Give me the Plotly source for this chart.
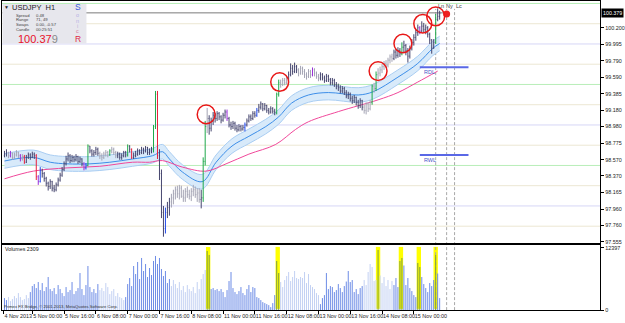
import plotly.graph_objects as go

# ---------------- data ----------------
x_tick_pos = [-0.5, 14, 30, 46, 62, 78, 94, 110, 126, 142, 158, 174, 190, 206]
x_tick_text = ["4 Nov 2013", "5 Nov 00:00", "5 Nov 16:00", "6 Nov 08:00", "7 Nov 00:00",
               "7 Nov 16:00", "8 Nov 08:00", "11 Nov 00:00", "11 Nov 16:00", "12 Nov 08:00",
               "13 Nov 00:00", "13 Nov 16:00", "14 Nov 08:00", "15 Nov 00:00"]
y_ticks = [100.200, 99.995, 99.790, 99.590, 99.385, 99.180, 98.980, 98.775,
           98.570, 98.370, 98.165, 97.960, 97.760, 97.555]
vol_ticks = [0, 12397]

open_first = 98.62
close = [
 98.64, 98.66, 98.62, 98.65, 98.60, 98.63, 98.66, 98.62, 98.58, 98.61,
 98.54, 98.60, 98.63, 98.60, 98.64, 98.62, 98.36, 98.30, 98.44, 98.40,
 98.34, 98.28, 98.24, 98.30, 98.22, 98.20, 98.26, 98.32, 98.38, 98.45,
 98.52, 98.58, 98.62, 98.56, 98.60, 98.57, 98.61, 98.55, 98.58, 98.52,
 98.47, 98.50, 98.74, 98.68, 98.64, 98.66, 98.70, 98.65, 98.62, 98.60,
 98.64, 98.66, 98.63, 98.68, 98.70, 98.66, 98.62, 98.64, 98.60, 98.62,
 98.66, 98.63, 98.74, 98.70, 98.60, 98.62, 98.64, 98.68, 98.66, 98.70,
 98.68, 98.72, 98.66, 98.68, 98.70, 98.98, 99.38, 98.62, 98.40, 97.92,
 97.72, 97.92, 97.98, 98.05, 98.10, 98.15, 98.20, 98.15, 98.22, 98.12,
 98.10, 98.18, 98.14, 98.12, 98.18, 98.20, 98.14, 98.16, 98.08, 98.10,
 98.55, 98.98, 99.08, 98.96, 99.05, 99.12, 99.08, 99.14, 99.10, 99.06,
 99.12, 99.16, 99.08, 99.00, 98.98, 99.02, 98.96, 98.94, 98.98, 98.95,
 98.97, 99.00, 99.05, 99.10, 99.08, 99.14, 99.12, 99.18, 99.22, 99.26,
 99.20, 99.24, 99.18, 99.16, 99.20, 99.17, 99.15, 99.38, 99.52, 99.50,
 99.55, 99.52, 99.57, 99.62, 99.70, 99.66, 99.72, 99.68, 99.64, 99.70,
 99.66, 99.62, 99.60, 99.66, 99.62, 99.68, 99.64, 99.60, 99.58, 99.62,
 99.58, 99.55, 99.60, 99.56, 99.52, 99.55, 99.50, 99.48, 99.46, 99.42,
 99.45, 99.40, 99.36, 99.38, 99.33, 99.30, 99.34, 99.28, 99.24, 99.30,
 99.22, 99.18, 99.26, 99.20, 99.28, 99.48, 99.45, 99.62, 99.64, 99.68,
 99.72, 99.76, 99.74, 99.80, 99.84, 99.82, 99.90, 99.86, 99.92, 99.88,
 99.96, 99.98, 99.92, 99.85, 99.95, 100.02, 100.08, 100.14, 100.20, 100.16,
 100.22, 100.18, 100.20, 100.12, 100.05, 99.95, 100.02, 100.30, 100.34, 100.38]
high = [
 98.68, 98.70, 98.67, 98.68, 98.66, 98.66, 98.69, 98.67, 98.64, 98.64,
 98.63, 98.63, 98.66, 98.65, 98.67, 98.66, 98.64, 98.38, 98.48, 98.46,
 98.42, 98.36, 98.30, 98.33, 98.31, 98.26, 98.29, 98.35, 98.41, 98.48,
 98.55, 98.62, 98.66, 98.64, 98.63, 98.62, 98.64, 98.62, 98.61, 98.59,
 98.54, 98.53, 98.76, 98.74, 98.70, 98.69, 98.73, 98.72, 98.67, 98.65,
 98.67, 98.69, 98.68, 98.70, 98.73, 98.72, 98.68, 98.67, 98.66, 98.65,
 98.68, 98.68, 98.76, 98.75, 98.71, 98.66, 98.68, 98.71, 98.70, 98.73,
 98.72, 98.74, 98.73, 98.71, 98.73, 99.00, 99.42, 99.42, 98.70, 98.45,
 98.00, 97.98, 98.05, 98.10, 98.15, 98.20, 98.24, 98.25, 98.26, 98.25,
 98.20, 98.22, 98.24, 98.20, 98.22, 98.26, 98.24, 98.22, 98.22, 98.20,
 98.60, 99.05, 99.21, 99.12, 99.09, 99.16, 99.15, 99.17, 99.16, 99.12,
 99.15, 99.19, 99.19, 99.10, 99.04, 99.05, 99.04, 99.00, 99.01, 99.00,
 99.00, 99.03, 99.08, 99.13, 99.13, 99.17, 99.17, 99.21, 99.26, 99.29,
 99.27, 99.27, 99.25, 99.21, 99.23, 99.22, 99.20, 99.40, 99.56, 99.56,
 99.58, 99.58, 99.60, 99.66, 99.76, 99.74, 99.77, 99.74, 99.70, 99.73,
 99.72, 99.69, 99.65, 99.69, 99.68, 99.71, 99.70, 99.66, 99.63, 99.65,
 99.64, 99.61, 99.63, 99.62, 99.58, 99.58, 99.57, 99.53, 99.51, 99.49,
 99.48, 99.47, 99.43, 99.41, 99.40, 99.36, 99.37, 99.35, 99.31, 99.33,
 99.31, 99.25, 99.28, 99.28, 99.31, 99.50, 99.52, 99.66, 99.70, 99.72,
 99.75, 99.79, 99.80, 99.83, 99.87, 99.88, 99.93, 99.94, 99.96, 99.95,
 100.02, 100.04, 100.00, 99.95, 99.98, 100.06, 100.12, 100.18, 100.24, 100.22,
 100.28, 100.26, 100.24, 100.22, 100.14, 100.06, 100.06, 100.37, 100.44, 100.41]
low = [
 98.60, 98.61, 98.59, 98.60, 98.57, 98.58, 98.61, 98.59, 98.55, 98.56,
 98.52, 98.53, 98.58, 98.57, 98.59, 98.58, 98.32, 98.26, 98.29, 98.35,
 98.30, 98.24, 98.19, 98.21, 98.18, 98.17, 98.18, 98.24, 98.30, 98.36,
 98.43, 98.50, 98.55, 98.53, 98.54, 98.54, 98.55, 98.52, 98.53, 98.49,
 98.44, 98.45, 98.49, 98.65, 98.61, 98.61, 98.63, 98.62, 98.58, 98.56,
 98.58, 98.61, 98.60, 98.62, 98.65, 98.63, 98.59, 98.59, 98.57, 98.57,
 98.60, 98.60, 98.61, 98.66, 98.58, 98.58, 98.60, 98.62, 98.63, 98.64,
 98.64, 98.66, 98.63, 98.63, 98.65, 98.66, 98.95, 98.58, 98.32, 97.85,
 97.62, 97.66, 97.85, 97.88, 97.98, 98.02, 98.08, 98.10, 98.08, 98.10,
 98.05, 98.05, 98.10, 98.08, 98.06, 98.12, 98.10, 98.05, 98.04, 97.97,
 98.05, 98.50, 98.90, 98.88, 98.92, 99.00, 99.03, 99.05, 99.06, 99.02,
 99.04, 99.08, 99.05, 98.97, 98.94, 98.95, 98.93, 98.91, 98.92, 98.92,
 98.93, 98.92, 98.98, 99.03, 99.05, 99.06, 99.09, 99.10, 99.15, 99.19,
 99.17, 99.18, 99.15, 99.13, 99.14, 99.14, 99.12, 99.13, 99.35, 99.46,
 99.48, 99.49, 99.50, 99.54, 99.60, 99.62, 99.64, 99.64, 99.60, 99.62,
 99.62, 99.58, 99.56, 99.58, 99.58, 99.60, 99.60, 99.57, 99.54, 99.55,
 99.55, 99.52, 99.53, 99.53, 99.49, 99.49, 99.47, 99.44, 99.42, 99.39,
 99.39, 99.37, 99.33, 99.32, 99.29, 99.26, 99.27, 99.24, 99.20, 99.21,
 99.18, 99.14, 99.13, 99.16, 99.18, 99.25, 99.40, 99.42, 99.56, 99.60,
 99.64, 99.68, 99.70, 99.71, 99.76, 99.78, 99.80, 99.82, 99.83, 99.84,
 99.86, 99.90, 99.86, 99.77, 99.82, 99.92, 99.98, 100.04, 100.10, 100.12,
 100.14, 100.14, 100.12, 100.08, 100.00, 99.88, 99.94, 100.00, 100.28, 100.30]

gray_ranges = [(2, 9), (48, 56), (84, 98), (102, 102), (139, 142), (148, 158), (181, 195)]
green_bars = [42, 53, 62, 75, 76, 100, 101, 137, 138, 185, 187, 200, 217]
red_bars = [10, 16, 64, 77]
purple_bars = [3, 8, 17, 40, 112, 155, 209]
blue_bars = [18, 41, 81, 121, 127]

volume = [
 2400, 2000, 2600, 1800, 2200, 2800, 2400, 3400, 2600, 2000, 2200, 3000, 2400,
 3600, 4800, 5200, 4400, 5600, 4000, 5400, 3800, 4600, 6600, 4200,
 3800, 4400, 3200, 5000, 4200, 3400, 2800, 4600, 3600, 4000, 5600, 3200, 3800, 4400, 7400,
 4200, 3000, 5000, 8800, 4600, 3600, 4200,
 3400, 5200, 4000, 4400, 3800, 5400, 4600, 3200, 3800, 4200, 2800, 3400, 2600, 2400, 2000, 2600,
 5200, 6400, 4800, 8800, 7200, 9600, 6200, 10400, 7800, 9200, 6600, 8400,
 7000, 9800, 10800, 9200, 10400, 8200,
 6800, 7800, 5400, 6200, 4800, 6000, 5200, 4400, 5600, 4000, 4800, 3600, 5000, 4200, 3800, 4600, 3400, 5600, 4200, 6200,
 7200, 8000, 11800, 11000,
 4200, 4400, 4000, 4200, 3800, 4200, 3600, 2600, 4000, 5800, 7600, 4400,
 3600, 3200, 3800, 4600, 3400, 3000, 4200, 5000, 3600, 4600, 4400, 2600, 2400, 2000, 1600,
 1400, 1200, 1000, 600, 1400, 3000,
 9800, 7400,
 5600, 4600, 6000, 6800, 7600, 5800, 6600, 7800, 6400, 6200, 6600, 6400, 7600, 5400, 7200, 5000,
 4600, 4200, 3400, 3000, 1200, 2400, 3000, 7400, 4200,
 4800, 4600, 3600, 4000, 5200, 4400, 3600, 4800, 5700,
 7800, 5600, 6000, 3600, 4200, 3200, 4400, 4800,
 6000, 5000, 7600, 9200, 8600, 5800, 6000,
 12000, 6900,
 5400, 6600, 4800, 6000, 4200, 5800, 5000, 6400, 4600,
 9800, 10400, 8900,
 5000, 6400, 4400, 3800, 3000, 2600,
 9400, 8600, 6600,
 5200, 4400, 3600, 5400, 4800,
 6000, 11000, 7300, 2400]
light_vol_ranges = [(2, 12), (48, 60), (84, 101), (139, 158), (181, 195)]
olive_vol_bars = [102, 103, 137, 138, 188, 199, 200, 208, 209, 217]
highlight_k = [102.5, 137.5, 188, 199.5, 208.5, 217]

ma_fast_k = [0, 14.5, 23, 31.5, 43, 53, 64.5, 74.5, 79.5, 83, 89.5, 99.5, 106.5, 114.5,
             123, 131.5, 138, 144.5, 153, 163, 178, 185.5, 198, 208, 215.5, 219]
ma_fast_v = [98.555, 98.60, 98.54, 98.52, 98.52, 98.54, 98.58, 98.62, 98.67, 98.58, 98.42,
             98.30, 98.54, 98.74, 98.86, 98.98, 99.10, 99.27, 99.37, 99.40, 99.37, 99.41,
             99.59, 99.76, 99.945, 100.006]
band_up_v = [98.645, 98.69, 98.63, 98.61, 98.61, 98.63, 98.67, 98.71, 98.76, 98.67, 98.51,
             98.39, 98.63, 98.83, 98.95, 99.07, 99.19, 99.36, 99.46, 99.49, 99.46, 99.50,
             99.68, 99.85, 100.035, 100.096]
band_lo_v = [98.465, 98.51, 98.45, 98.43, 98.43, 98.45, 98.49, 98.53, 98.58, 98.49, 98.33,
             98.21, 98.45, 98.65, 98.77, 98.89, 99.01, 99.18, 99.28, 99.31, 99.28, 99.32,
             99.50, 99.67, 99.855, 99.916]
ma_slow_k = [0, 14.5, 31.5, 48, 64.5, 73, 79.5, 89.5, 101.5, 111.5, 123, 136.5, 146.5,
             153, 168, 188, 198, 208, 218]
ma_slow_v = [98.335, 98.43, 98.47, 98.49, 98.54, 98.54, 98.56, 98.48, 98.43, 98.52, 98.64,
             98.76, 98.945, 99.04, 99.165, 99.31, 99.40, 99.53, 99.665]

levels_full = [98.0, 99.0, 100.0]
levels_half = [98.5, 99.5, 100.5]
levels_quarter = [97.75, 98.25, 98.75, 99.25, 99.75, 100.25]

circle_k = [101.5, 138.5, 188, 200.5, 210.5, 217]
circle_p = [99.13, 99.53, 99.665, 100.006, 100.25, 100.34]

session_k = [217, 222.5, 226.5]
session_lbl = ["Ln", "Ny", "Lc"]
session_lbl_k = [219.5, 224, 228.5]

rdl_price, rwl_price = 99.713, 98.628
ref_line_k = [209, 233.5]
high_line_price = 100.384
last_price = 100.379
dot_k, dot_p = 222.5, 100.37

# ---------------- figure ----------------
W, H = 625, 323
def px(v): return v / W
def py(v): return 1 - v / H

FONT = "Liberation Sans, Arial, sans-serif"

fig = go.Figure()
n = len(close)
opens = [open_first] + close[:-1]

cat = ['d'] * n
for a, b in gray_ranges:
    for i in range(a, b + 1):
        cat[i] = 'g'
for lst, c in ((green_bars, 'G'), (red_bars, 'R'), (purple_bars, 'P'), (blue_bars, 'B')):
    for i in lst:
        cat[i] = c

# moving-average band and lines
fig.add_trace(go.Scatter(x=ma_fast_k, y=band_up_v, mode='lines', line=dict(color='#a9cdf2', width=1, shape='spline'),
                         hoverinfo='skip'))
fig.add_trace(go.Scatter(x=ma_fast_k, y=band_lo_v, mode='lines', line=dict(color='#a9cdf2', width=1, shape='spline'),
                         fill='tonexty', fillcolor='#d8eafa', hoverinfo='skip'))
fig.add_trace(go.Scatter(x=ma_fast_k, y=ma_fast_v, mode='lines', line=dict(color='#3d8ee8', width=1, shape='spline'),
                         hoverinfo='skip'))
fig.add_trace(go.Scatter(x=ma_slow_k, y=ma_slow_v, mode='lines', line=dict(color='#f0489a', width=1, shape='spline'),
                         hoverinfo='skip'))

bar_colors = {'g': '#a4a4b4', 'd': '#45456e', 'G': '#1fa84a', 'R': '#e8203c', 'P': '#9a30d8', 'B': '#2048e8'}
for code, col in bar_colors.items():
    xs, ys = [], []
    for i in range(n):
        if cat[i] != code:
            continue
        hi = max(high[i], opens[i], close[i])
        lo = min(low[i], opens[i], close[i])
        xs += [i, i, None, i - 0.3, i, None, i, i + 0.3, None]
        ys += [lo, hi, None, opens[i], opens[i], None, close[i], close[i], None]
    fig.add_trace(go.Scatter(x=xs, y=ys, mode='lines', line=dict(color=col, width=1), hoverinfo='skip'))

# last-price dot
fig.add_trace(go.Scatter(x=[dot_k], y=[dot_p], mode='markers', marker=dict(color='#ee2020', size=7), hoverinfo='skip'))

# volumes (1px histogram lines)
vcat = ['d'] * n
for a, b in light_vol_ranges:
    for i in range(a, b + 1):
        vcat[i] = 'l'
for i in olive_vol_bars:
    vcat[i] = 'o'
vol_colors = {'d': '#6d8ce6', 'l': '#c3d1f3', 'o': '#7f9c42'}
for code, col in vol_colors.items():
    xs, ys = [], []
    for i in range(n):
        if vcat[i] == code:
            xs += [i, i, None]
            ys += [0, volume[i], None]
    fig.add_trace(go.Scatter(x=xs, y=ys, mode='lines', line=dict(color=col, width=1),
                             xaxis='x2', yaxis='y2', hoverinfo='skip'))

# level lines
for lv in levels_quarter:
    fig.add_shape(type='line', xref='x domain', yref='y', x0=0, x1=1, y0=lv, y1=lv,
                  line=dict(color='#ece7d3', width=1), layer='below')
for lv in levels_full:
    fig.add_shape(type='line', xref='x domain', yref='y', x0=0, x1=1, y0=lv, y1=lv,
                  line=dict(color='#d6d6f6', width=1), layer='below')
for lv in levels_half:
    fig.add_shape(type='line', xref='x domain', yref='y', x0=0, x1=1, y0=lv, y1=lv,
                  line=dict(color='#b8eeb8', width=1), layer='below')

# yellow highlights in volume
for k in highlight_k:
    fig.add_shape(type='rect', xref='x2', yref='y2 domain', x0=k - 1.1, x1=k + 1.1, y0=0.02, y1=0.97,
                  fillcolor='#ffff00', line=dict(width=0), layer='below')

# session dashed lines
for k in session_k:
    fig.add_shape(type='line', xref='x', yref='paper', x0=k, x1=k, y0=py(313), y1=py(8),
                  line=dict(color='#a8a8a8', width=1, dash='3px,2px'), layer='below')
for k, t in zip(session_lbl_k, session_lbl):
    fig.add_annotation(x=k, y=py(5), xref='x', yref='paper', text=t, showarrow=False,
                       font=dict(size=5.5, color='#444', family=FONT), xanchor='center', yanchor='middle',
                       borderpad=0)

# high line
fig.add_shape(type='line', xref='x', yref='y', x0=-1, x1=dot_k, y0=high_line_price, y1=high_line_price,
              line=dict(color='#7a7a7a', width=1), layer='below')

# RDL / RWL
for p, t in ((rdl_price, 'RDL'), (rwl_price, 'RWL')):
    fig.add_shape(type='line', xref='x', yref='y', x0=ref_line_k[0], x1=ref_line_k[1], y0=p, y1=p,
                  line=dict(color='#5a68e6', width=2), layer='above')
    fig.add_annotation(x=ref_line_k[0] + 1.5, y=p, xref='x', yref='y', text=t, showarrow=False,
                       font=dict(size=5.5, color='#4a58c8', family=FONT), xanchor='left', yanchor='top',
                       yshift=-1, borderpad=0)

# red circles
for k, p in zip(circle_k, circle_p):
    fig.add_shape(type='circle', xref='x', yref='y', x0=k - 4.5, x1=k + 4.5, y0=p - 0.115, y1=p + 0.115,
                  line=dict(color='#e81818', width=1.5), layer='above')

# info panel
fig.add_shape(type='rect', xref='paper', yref='paper', x0=px(2.5), x1=px(87), y0=py(43), y1=py(3),
              fillcolor='#e7e7ed', line=dict(width=0), layer='above')
def txt(x, y, t, size, color='#333', anchor='left', family=FONT):
    fig.add_annotation(x=px(x), y=py(y), xref='paper', yref='paper', text=t, showarrow=False,
                       font=dict(size=size, color=color, family=family), xanchor=anchor, yanchor='middle',
                       borderpad=0)
txt(3.5, 6, '▼', 5, '#222')
txt(11, 6.5, 'USDJPY  H1', 7.5, '#222')
rows = [('Spread', '0.48'), ('Range', '71, 49'), ('Swaps', '0.00, -0.57'), ('Candle', '00:25:51')]
for j, (a, b) in enumerate(rows):
    txt(15, 14.2 + 5 * j, a, 4.2, '#444')
    txt(35, 14.2 + 5 * j, b, 4.2, '#444')
txt(17, 38, "<span style='color:#e8102a'>100.37</span><span style='color:#8a8a8a'>9</span>", 11)
sonic = [('S', 6, 8.5, '#3b5bdb'), ('o', 14.5, 5.5, '#b8b0e4'), ('n', 20, 5.5, '#b8b0e4'),
         ('i', 25, 5.5, '#c0b0d8'), ('c', 30.5, 5.5, '#d880a0'), ('R', 38.5, 8.5, '#e02848')]
for t, y, s, c in sonic:
    txt(78.5, y, t, s, c, anchor='center')

# last price label on axis
fig.add_annotation(x=px(605), y=last_price, xref='paper', yref='y', text='100.379', showarrow=False,
                   font=dict(size=5.3, color='white', family=FONT), bgcolor='black', borderpad=1,
                   xanchor='left', yanchor='middle')

# volume panel texts
txt(4, 251.5, 'Volumes 2309', 5.3, '#222')
txt(3.5, 309.5, 'Primex FX Bridge, © 2001-2013, MetaQuotes Software Corp.', 4.2, '#333')

axis_common = dict(showgrid=False, zeroline=False, showline=True, linecolor='black', linewidth=1, mirror=True)
tickfont = dict(size=5.4, family=FONT, color='#222')
fig.update_layout(
    width=W, height=H, margin=dict(l=0, r=0, t=0, b=0), showlegend=False,
    plot_bgcolor='white', paper_bgcolor='white',
    xaxis=dict(domain=[px(2), px(604)], range=[-1.25, 299.75], anchor='y', showticklabels=False, ticks='',
               **axis_common),
    yaxis=dict(domain=[py(245), py(0)], range=[97.543, 100.5305], side='right', tickvals=y_ticks,
               ticktext=[f'{v:.3f}' for v in y_ticks], ticks='outside', ticklen=3, tickcolor='black',
               tickfont=tickfont, anchor='x', **axis_common),
    xaxis2=dict(domain=[px(2), px(604)], range=[-1.25, 299.75], anchor='y2', tickvals=x_tick_pos,
                ticktext=x_tick_text, ticks='outside', ticklen=3, tickcolor='black', tickangle=0,
                ticklabelposition='outside right', tickfont=tickfont, **axis_common),
    yaxis2=dict(domain=[py(313), py(247)], range=[0, 13000], side='right', tickvals=vol_ticks,
                ticktext=[str(v) for v in vol_ticks], ticks='outside', ticklen=3, tickcolor='black',
                tickfont=tickfont, anchor='x2', **axis_common),
)

fig.write_html("out.html")
